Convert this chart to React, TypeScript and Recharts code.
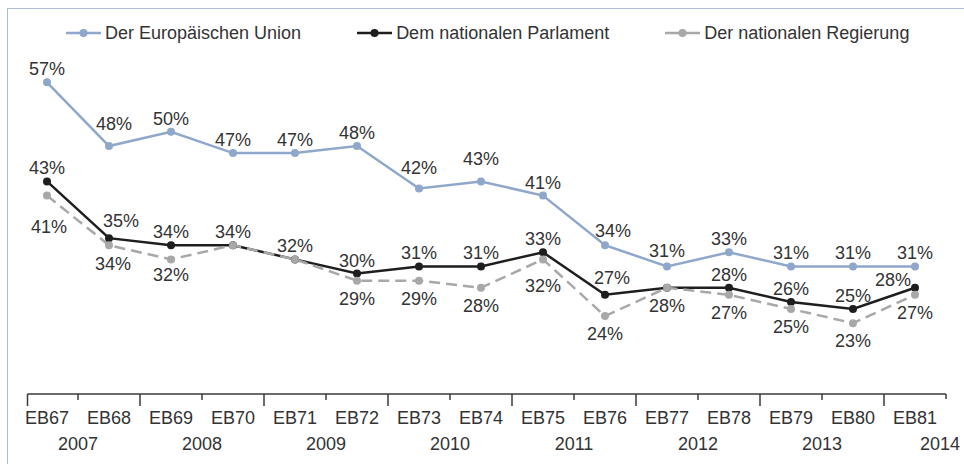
import React from 'react';
import { LineChart, Line, XAxis, YAxis, LabelList } from 'recharts';

// Eurobarometer-Wellen und Jahre (ein Jahr je zwei Wellen, EB81 allein für 2014)
const WAVES = ['EB67', 'EB68', 'EB69', 'EB70', 'EB71', 'EB72', 'EB73', 'EB74', 'EB75', 'EB76', 'EB77', 'EB78', 'EB79', 'EB80', 'EB81'];
const YEARS = ['2007', '2008', '2009', '2010', '2011', '2012', '2013', '2014'];

const EU = [57, 48, 50, 47, 47, 48, 42, 43, 41, 34, 31, 33, 31, 31, 31];
const PARLAMENT = [43, 35, 34, 34, 32, 30, 31, 31, 33, 27, 28, 28, 26, 25, 28];
const REGIERUNG = [41, 34, 32, 34, 32, 29, 29, 28, 32, 24, 28, 27, 25, 23, 27];

const SERIES = [
  { key: 'eu', name: 'Der Europäischen Union', color: '#8fa7cb', dash: undefined as string | undefined, width: 2.5 },
  { key: 'parl', name: 'Dem nationalen Parlament', color: '#1f1d1e', dash: undefined as string | undefined, width: 2.5 },
  { key: 'reg', name: 'Der nationalen Regierung', color: '#a8a8a8', dash: '11 6', width: 2.5 },
];

const data = WAVES.map((wave, i) => ({ wave, eu: EU[i], parl: PARLAMENT[i], reg: REGIERUNG[i] }));

const FONT = '"Liberation Sans", Arial, sans-serif';
const TEXT = '#333333';
const AXIS = '#3a3a3a';
const HALF = 31; // halbe Kategoriebreite

function AxisTick(props: any) {
  const { x, y, payload, index } = props;
  const left = index === 0 ? x - 19.5 : x - HALF;
  const right = x + HALF;
  const last = index === WAVES.length - 1;
  const tall = index % 2 === 0;
  return (
    <g>
      <line x1={left} x2={right} y1={y} y2={y} stroke={AXIS} strokeWidth={1.5} />
      <line x1={left} x2={left} y1={y} y2={y + (tall ? 12 : 6)} stroke={AXIS} strokeWidth={1.5} />
      {last && <line x1={right} x2={right} y1={y} y2={y + 5} stroke={AXIS} strokeWidth={1.5} />}
      <text x={x} y={y + 24} textAnchor="middle" dominantBaseline="central" fill={TEXT} fontSize={18} fontFamily={FONT}>
        {payload.value}
      </text>
      {tall && (
        <text
          x={last ? x + HALF + 14 : x + HALF}
          y={y + 50}
          textAnchor={last ? 'end' : 'middle'}
          dominantBaseline="central"
          fill={TEXT}
          fontSize={18}
          fontFamily={FONT}
        >
          {YEARS[index / 2]}
        </text>
      )}
    </g>
  );
}

function makeLabel(above: boolean, skip: number[], nudge: Record<number, [number, number]>) {
  return (p: any) => {
    const { value, index } = p;
    if (skip.includes(index)) return null;
    const vb = p.viewBox || {};
    const px = p.x ?? (vb.x ?? 0) + (vb.width ?? 0) / 2;
    const py = p.y ?? (vb.y ?? 0) + (vb.height ?? 0) / 2;
    const [dx, dy] = nudge[index] ?? [0, above ? -13 : 18];
    return (
      <text x={px + dx} y={py + dy} textAnchor="middle" dominantBaseline="central" fill={TEXT} fontSize={18} fontFamily={FONT}>
        {value}%
      </text>
    );
  };
}

const LABELS: Record<string, (p: any) => any> = {
  eu: makeLabel(true, [], { 1: [5, -22], 6: [0, -21], 7: [0, -22], 9: [8, -14], 10: [0, -15] }),
  parl: makeLabel(true, [10], { 1: [12, -17], 9: [7, -17], 14: [-22, -8] }),
  reg: makeLabel(false, [3, 4], { 0: [2, 31], 1: [4, 19], 2: [0, 16], 8: [0, 27] }),
};

function LegendBar() {
  return (
    <div
      style={{
        position: 'absolute',
        top: 22,
        left: 66,
        display: 'flex',
        gap: 56,
        fontFamily: FONT,
        fontSize: 18,
        color: TEXT,
        lineHeight: '22px',
        whiteSpace: 'nowrap',
      }}
    >
      {SERIES.map((s) => (
        <div key={s.key} style={{ display: 'flex', alignItems: 'center' }}>
          <svg width={35} height={10} style={{ marginRight: 4 }}>
            <line x1={0} x2={35} y1={5} y2={5} stroke={s.color} strokeWidth={2.5} />
            <circle cx={17.5} cy={5} r={4} fill={s.color} />
          </svg>
          <span>{s.name}</span>
        </div>
      ))}
    </div>
  );
}

export default function App() {
  return (
    <div style={{ position: 'relative', width: 964, height: 464, background: '#fff', overflow: 'hidden' }}>
      <style>{'body{margin:0}'}</style>
      <div
        style={{
          position: 'absolute',
          left: 7,
          top: 8,
          right: -2,
          bottom: -2,
          borderLeft: '1.5px solid #adbcd8',
          borderTop: '1.5px solid #adbcd8',
        }}
      />
      <LegendBar />
      <LineChart
        width={964}
        height={464}
        data={data}
        margin={{ top: 61, right: 18, bottom: 0, left: 16 }}
        style={{ position: 'absolute', left: 0, top: 0 }}
      >
        <XAxis
          dataKey="wave"
          interval={0}
          padding={{ left: HALF, right: HALF }}
          axisLine={false}
          tickLine={false}
          tickSize={0}
          tickMargin={0}
          height={70}
          tick={<AxisTick />}
        />
        <YAxis hide domain={[13, 60]} />
        {SERIES.map((s) => (
          <Line
            key={s.key}
            dataKey={s.key}
            name={s.name}
            type="linear"
            stroke={s.color}
            strokeWidth={s.width}
            strokeDasharray={s.dash}
            dot={{ r: 4, fill: s.color, stroke: 'none' }}
            activeDot={false}
            isAnimationActive={false}
          >
            <LabelList dataKey={s.key} content={LABELS[s.key]} />
          </Line>
        ))}
      </LineChart>
    </div>
  );
}
